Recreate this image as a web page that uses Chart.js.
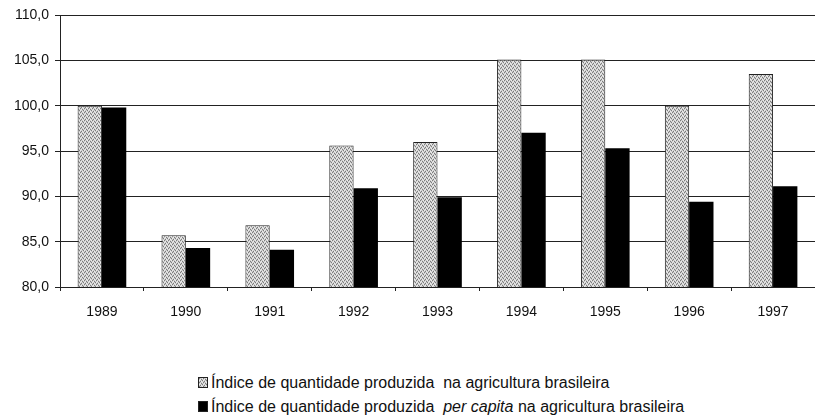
<!DOCTYPE html>
<html lang="pt">
<head>
<meta charset="UTF-8">
<title>Índice de quantidade produzida na agricultura brasileira</title>
<script src="https://cdn.jsdelivr.net/npm/chart.js"></script>
<style>
  body { margin: 0; background: #fff; font-family: "Liberation Sans", Arial, sans-serif; }
  #wrap { position: relative; width: 815px; height: 418px; }
  #box { position: absolute; left: 0; top: 0; width: 815px; height: 340px; }
  #legend { position: absolute; left: 198px; top: 373px; font-size: 16px; color: #111; }
  #legend div { height: 24px; line-height: 20px; white-space: pre; }
  #legend span.sw { display: inline-block; width: 8px; height: 9px; margin-right: 3px; vertical-align: 0px; border: 1px solid #222; }
</style>
</head>
<body>
<div id="wrap">
  <div id="box"><canvas id="grafico"></canvas></div>
  <div id="legend">
    <div><span class="sw" id="sw1"></span>Índice de quantidade produzida  na agricultura brasileira</div>
    <div><span class="sw" style="background:#000"></span>Índice de quantidade produzida  <i>per capita</i> na agricultura brasileira</div>
  </div>
</div>
<script>
// dados
const anos = ['1989', '1990', '1991', '1992', '1993', '1994', '1995', '1996', '1997'];
const indiceTotal = [100.0, 85.7, 86.8, 95.6, 96.0, 105.1, 105.1, 100.0, 103.5];
const indicePerCapita = [99.8, 84.3, 84.1, 90.9, 89.9, 97.0, 95.3, 89.4, 91.1];
const ticksY = [80, 85, 90, 95, 100, 105, 110];

// textura pontilhada cinza das barras
function pontilhado() {
  const c = document.createElement('canvas');
  c.width = 4; c.height = 4;
  const g = c.getContext('2d');
  g.fillStyle = '#cbcbcb'; g.fillRect(0, 0, 4, 4);
  g.fillStyle = '#7c7c7c';
  [[0,0],[2,1],[1,3],[3,2]].forEach(p => g.fillRect(p[0], p[1], 1, 1));
  g.fillStyle = '#eeeeee';
  [[2,3],[0,2],[3,0],[1,1]].forEach(p => g.fillRect(p[0], p[1], 1, 1));
  return c;
}
const padrao = document.createElement('canvas').getContext('2d').createPattern(pontilhado(), 'repeat');
document.getElementById('sw1').style.background = 'url(' + pontilhado().toDataURL() + ')';

const fmt = v => v.toFixed(1).replace('.', ',');

new Chart(document.getElementById('grafico'), {
  type: 'bar',
  data: {
    labels: anos,
    datasets: [
      { label: 'Índice de quantidade produzida na agricultura brasileira', data: indiceTotal,
        backgroundColor: padrao, borderColor: '#222', borderWidth: 1,
        categoryPercentage: 0.58, barPercentage: 1 },
      { label: 'Índice de quantidade produzida per capita na agricultura brasileira', data: indicePerCapita,
        backgroundColor: '#000', borderColor: '#000', borderWidth: 0,
        categoryPercentage: 0.58, barPercentage: 1 }
    ]
  },
  options: {
    responsive: true,
    maintainAspectRatio: false,
    animation: false,
    layout: { padding: { top: 15, right: 0, left: 0, bottom: 0 } },
    plugins: { legend: { display: false }, tooltip: { enabled: false } },
    scales: {
      x: {
        grid: { drawOnChartArea: false, drawTicks: true, tickLength: 4, color: '#222' },
        border: { color: '#222', width: 1 },
        ticks: { color: '#111', padding: 13, font: { family: 'Liberation Sans', size: 14 } },
        afterFit: s => { s.height = 53; }
      },
      y: {
        min: 80, max: 110,
        afterBuildTicks: s => { s.ticks = ticksY.map(v => ({ value: v })); },
        grid: { color: '#222', lineWidth: 1, tickLength: 5 },
        border: { color: '#222', width: 1 },
        ticks: { color: '#111', padding: 6, callback: v => fmt(v), font: { family: 'Liberation Sans', size: 14 } },
        afterFit: s => { s.width = 60; }
      }
    }
  }
});
</script>
</body>
</html>
